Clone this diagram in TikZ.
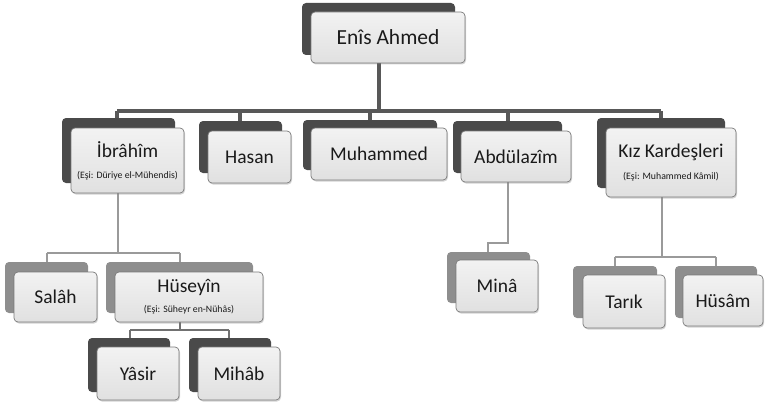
\documentclass[tikz,border=0pt]{standalone}
\usepackage{fontspec}
\setmainfont{Carlito}
\usetikzlibrary{shadows}
\definecolor{tabdark}{HTML}{4A4A4A}
\definecolor{tabmid}{HTML}{8E8E8E}
\definecolor{linedark}{HTML}{585858}
\definecolor{linemid}{HTML}{9A9A9A}
\definecolor{boxedge}{HTML}{7A7A7A}
\definecolor{txt}{HTML}{1A1A1A}
\newcommand\subtxt{\fontsize{9.8}{11}\selectfont}
\tikzset{
  x=1pt,y=-1pt,
  front/.style={draw=boxedge,line width=0.7pt,rounded corners=4pt,
    top color=white!95!black,bottom color=white!88!black,
    inner sep=0pt,align=center,text=txt,
    font=\fontsize{19.5}{22}\selectfont,
    drop shadow={shadow xshift=1pt,shadow yshift=-1.5pt,opacity=0.35}},
  tabd/.style={fill=tabdark,rounded corners=4pt,inner sep=0pt},
  tabm/.style={fill=tabmid,rounded corners=4pt,inner sep=0pt},
  conn0/.style={draw=linedark,line width=3.2pt},
  conn1/.style={draw=linemid,line width=2.8pt},
  conn2/.style={draw=linedark!85,line width=2.4pt}
}
\begin{document}
\begin{tikzpicture}
\useasboundingbox (0,0) rectangle (765,404);
% junction coordinates
\coordinate (j0) at (379,111);
\coordinate (b0l) at (117,111);
\coordinate (b0h) at (240,111);
\coordinate (b0m) at (370,111);
\coordinate (b0a) at (508,111);
\coordinate (b0r) at (661,111);
\coordinate (j1) at (118,253);
\coordinate (b1l) at (47,253);
\coordinate (b1r) at (180,253);
\coordinate (j2) at (180,330);
\coordinate (b2l) at (130,330);
\coordinate (b2r) at (229,330);
\coordinate (j3) at (508,243);
\coordinate (b3) at (488,243);
\coordinate (j4) at (662,257);
\coordinate (b4l) at (615,257);
\coordinate (b4r) at (716,257);

% tabs (back plates)
\node[tabd,minimum width=153,minimum height=52] (enis-t) at (378.5,29) {};
\node[tabd,minimum width=113,minimum height=65] (ibr-t) at (118.5,150.5) {};
\node[tabd,minimum width=83,minimum height=52] (has-t) at (240.5,147) {};
\node[tabd,minimum width=134,minimum height=50] (muh-t) at (370,145) {};
\node[tabd,minimum width=109,minimum height=52] (abd-t) at (507.5,147) {};
\node[tabd,minimum width=128,minimum height=70] (kiz-t) at (661,153) {};
\node[tabm,minimum width=83,minimum height=51] (sal-t) at (46.5,287.5) {};
\node[tabm,minimum width=147,minimum height=51] (hus-t) at (179.5,287.5) {};
\node[tabd,minimum width=82,minimum height=54] (yas-t) at (129,365) {};
\node[tabd,minimum width=82,minimum height=54] (mih-t) at (230,365) {};
\node[tabm,minimum width=83,minimum height=51] (min-t) at (488.5,277.5) {};
\node[tabm,minimum width=84,minimum height=52] (tar-t) at (615,292) {};
\node[tabm,minimum width=82,minimum height=52] (hsm-t) at (716,292) {};

% connectors
\draw[conn0] (j0 |- enis-t.south) -- (j0);
\draw[conn0] (b0l) -- (b0r);
\draw[conn0] (b0l) -- (b0l |- ibr-t.north);
\draw[conn0] (b0h) -- (b0h |- has-t.north);
\draw[conn0] (b0m) -- (b0m |- muh-t.north);
\draw[conn0] (b0a) -- (b0a |- abd-t.north);
\draw[conn0] (b0r) -- (b0r |- kiz-t.north);

\draw[conn1] (j1 |- ibr-t.south) -- (j1);
\draw[conn1] (b1l) -- (b1r);
\draw[conn1] (b1l) -- (b1l |- sal-t.north);
\draw[conn1] (b1r) -- (b1r |- hus-t.north);

\draw[conn2] (j2 |- hus-t.south) -- (j2);
\draw[conn2] (b2l) -- (b2r);
\draw[conn2] (b2l) -- (b2l |- yas-t.north);
\draw[conn2] (b2r) -- (b2r |- mih-t.north);

\draw[conn1] (j3 |- abd-t.south) -- (j3) -- (b3) -- (b3 |- min-t.north);

\draw[conn1] (j4 |- kiz-t.south) -- (j4);
\draw[conn1] (b4l) -- (b4r);
\draw[conn1] (b4l) -- (b4l |- tar-t.north);
\draw[conn1] (b4r) -- (b4r |- hsm-t.north);

% front boxes
\node[front,minimum width=154,minimum height=51,font=\fontsize{21.5}{24}\selectfont] (enis) at (388,37.5) {Enîs Ahmed};
\node[front,minimum width=113,minimum height=65] (ibr) at (127.5,160.5) {İbrâhîm\\[-1pt]{\subtxt (Eşi: Düriye el-Mühendis)}};
\node[front,minimum width=83,minimum height=52] (has) at (249.5,157) {Hasan};
\node[front,minimum width=136,minimum height=52] (muh) at (379,154) {Muhammed};
\node[front,minimum width=110,minimum height=51] (abd) at (516,156.5) {Abdülazîm};
\node[front,minimum width=130,minimum height=69] (kiz) at (671,162.5) {Kız Kardeşleri\\[0pt]{\subtxt (Eşi: Muhammed Kâmil)}};
\node[front,minimum width=83,minimum height=50] (sal) at (55.5,297) {Salâh};
\node[front,minimum width=148,minimum height=50] (hus) at (189,297) {Hüseyîn\\[-2pt]{\subtxt (Eşi: Süheyr en-Nühâs)}};
\node[front,minimum width=82,minimum height=53] (yas) at (138,373.5) {Yâsir};
\node[front,minimum width=82,minimum height=53] (mih) at (239,373.5) {Mihâb};
\node[front,minimum width=82,minimum height=52] (min) at (497,286) {Minâ};
\node[front,minimum width=82,minimum height=53] (tar) at (624,301.5) {Tarık};
\node[front,minimum width=80,minimum height=51] (hsm) at (723,300.5) {Hüsâm};
\end{tikzpicture}
\end{document}
